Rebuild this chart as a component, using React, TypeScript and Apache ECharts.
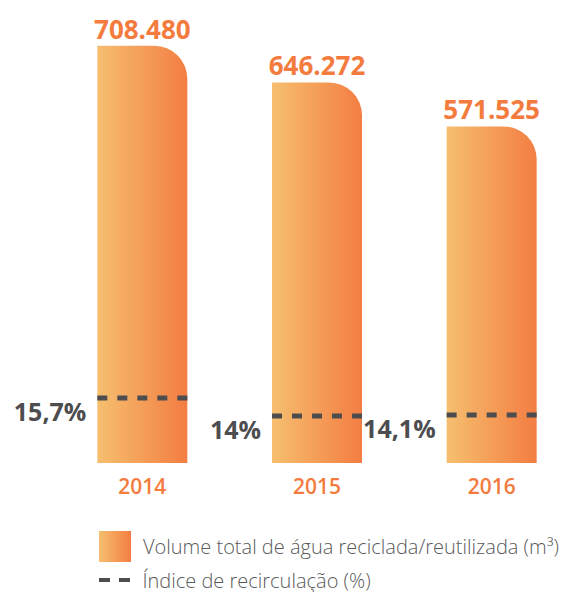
import React, { useEffect, useRef } from "react";
import * as echarts from "echarts";

const years = ["2014", "2015", "2016"];
const volumes = [708480, 646272, 571525];
const recirculation = [15.7, 14, 14.1];
const volumeName = "Volume total de água reciclada/reutilizada (m³)";
const indexName = "Índice de recirculação (%)";

const ORANGE = "#F47B3E";
const DARK = "#4D4D4F";
const FONT = "'Open Sans', sans-serif";

const fmtVolume = (v: number) => String(v).replace(/\B(?=(\d{3})+(?!\d))/g, ".");
const fmtPct = (v: number) => String(v).replace(".", ",") + "%";

export default function App() {
  const ref = useRef<HTMLDivElement>(null);
  useEffect(() => {
    if (!ref.current) return;
    const chart = echarts.init(ref.current, null, { renderer: "svg" });
    const grad = new echarts.graphic.LinearGradient(0, 0, 1, 0, [
      { offset: 0, color: "#F6BF6F" },
      { offset: 1, color: "#F37D42" },
    ]);
    const BAR_W = 90;
    const legendText = {
      color: "#5A5A5A",
      fontSize: 20,
      lineHeight: 20,
      fontWeight: 300,
      fontFamily: FONT,
      padding: [0, 0, 0, 7],
    };
    chart.setOption({
      animation: false,
      grid: {
        left: 55,
        right: -14,
        top: 39,
        bottom: 129,
        containLabel: false,
        outerBoundsMode: "none",
      },
      xAxis: {
        type: "category",
        data: years,
        axisLine: { show: false },
        axisTick: { show: false },
        axisLabel: {
          color: ORANGE,
          fontSize: 21,
          fontWeight: 600,
          fontFamily: FONT,
          margin: 12,
        },
      },
      yAxis: [
        { type: "value", min: 0, max: 720000, show: false },
        { type: "value", min: 9.57, max: 49.57, show: false },
      ],
      legend: [
        {
          data: [volumeName],
          left: 99,
          top: 531,
          padding: 0,
          itemWidth: 32,
          itemHeight: 31,
          icon: "rect",
          itemStyle: { color: grad, borderRadius: 0 },
          textStyle: legendText,
          selectedMode: false,
        },
        {
          data: [indexName],
          left: 99,
          top: 569,
          padding: 0,
          itemWidth: 32,
          itemHeight: 22,
          icon: "path://M0,9H11V13H0Z M20,9H31V13H20Z M0,0H0.01V22H0Z",
          itemStyle: { color: DARK },
          textStyle: legendText,
          selectedMode: false,
        },
      ],
      series: [
        {
          name: volumeName,
          type: "bar",
          data: volumes,
          barWidth: BAR_W,
          z: 2,
          itemStyle: { color: grad, borderRadius: [0, 33, 0, 0] },
          label: {
            show: true,
            position: "top",
            distance: 4,
            color: ORANGE,
            fontSize: 26,
            fontWeight: "bold",
            fontFamily: FONT,
            formatter: (p: any) => fmtVolume(p.value),
          },
        },
        {
          name: indexName,
          type: "custom",
          yAxisIndex: 1,
          z: 10,
          itemStyle: { color: DARK },
          data: recirculation.map((v, i) => [i, v]),
          renderItem: (params: any, api: any) => {
            const pt = api.coord([api.value(0), api.value(1)]);
            const x0 = pt[0] - BAR_W / 2;
            const x1 = pt[0] + BAR_W / 2;
            return {
              type: "group",
              children: [
                {
                  type: "line",
                  z2: 10,
                  shape: { x1: x0, y1: pt[1], x2: x1, y2: pt[1] },
                  style: { stroke: DARK, lineWidth: 5, lineDash: [10, 10], lineCap: "butt", fill: null },
                },
                {
                  type: "text",
                  x: x0 - 11,
                  y: pt[1] + 13,
                  style: {
                    text: fmtPct(api.value(1)),
                    fill: DARK,
                    fontSize: 25,
                    fontWeight: "bold",
                    fontFamily: FONT,
                    align: "right",
                    verticalAlign: "middle",
                  },
                },
              ],
            };
          },
        },
      ],
    });
    return () => chart.dispose();
  }, []);
  return <div ref={ref} style={{ width: 565, height: 592, position: "absolute", left: 0, top: 0 }} />;
}
